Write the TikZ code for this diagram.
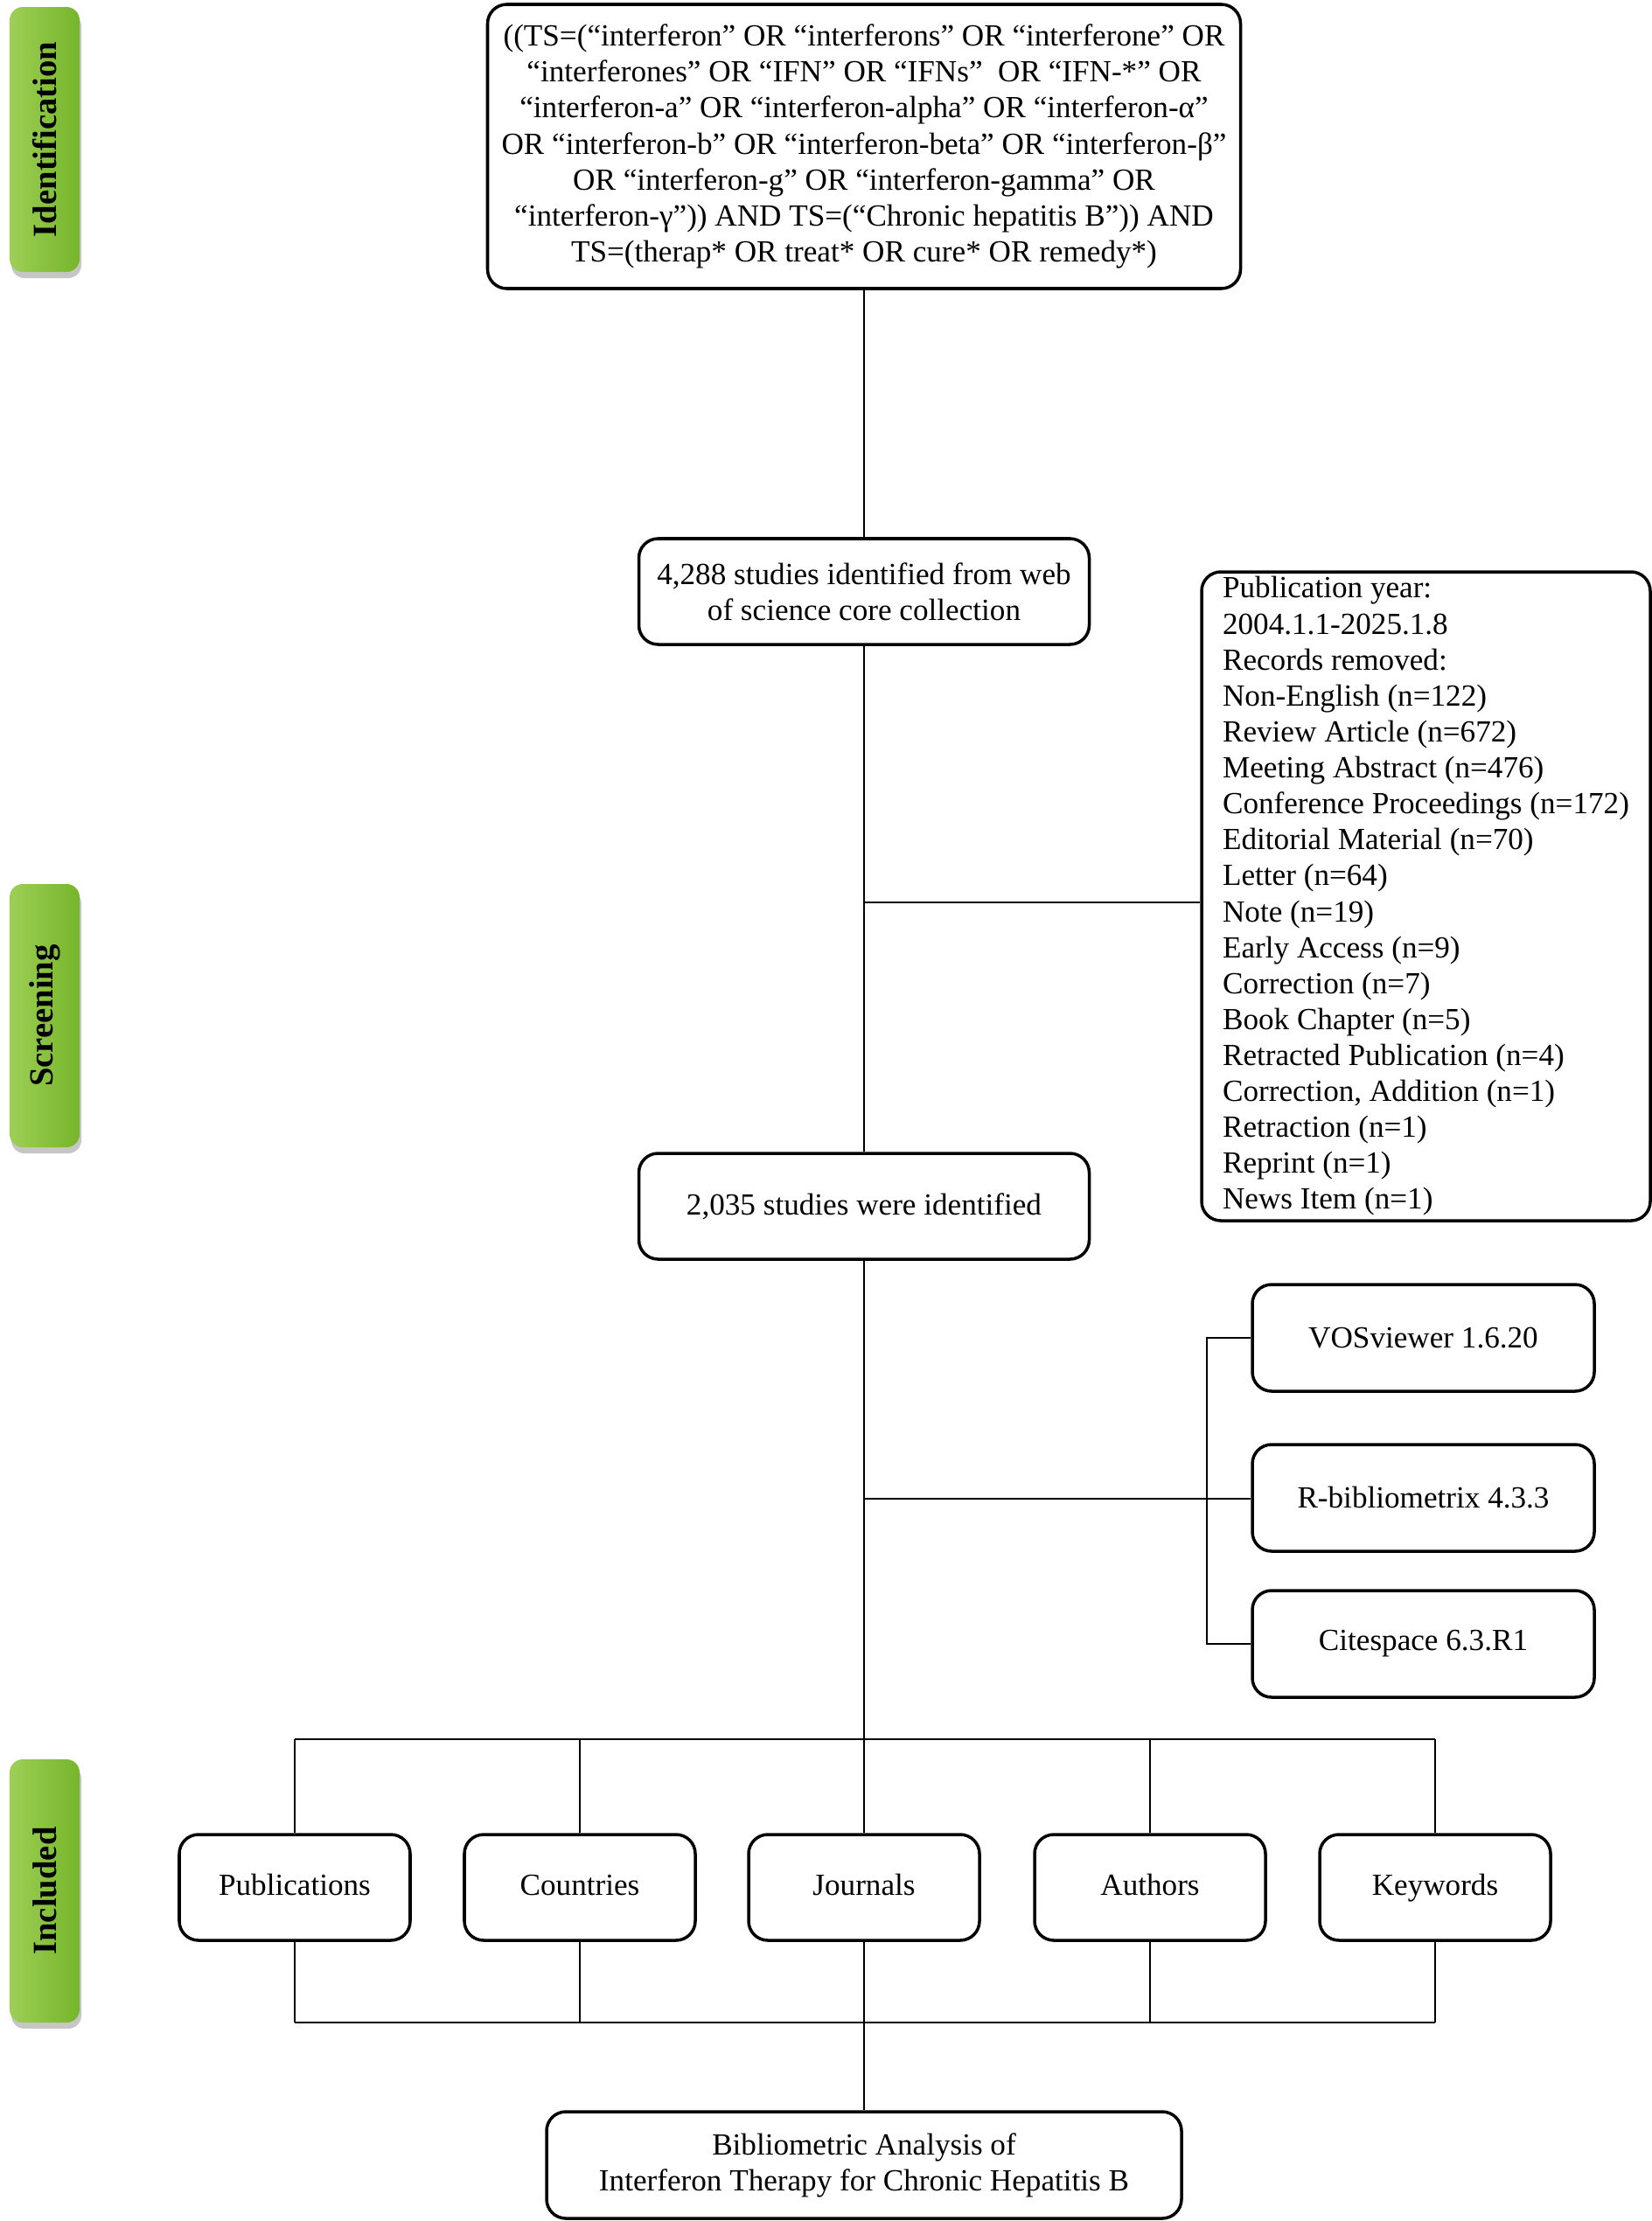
\documentclass[tikz,border=0pt]{standalone}
\usepackage{fontspec}
\setmainfont{Liberation Serif}
\usetikzlibrary{calc,shadows}
\definecolor{vertclair}{HTML}{9DCF55}
\definecolor{vertfonce}{HTML}{76B52A}

\begin{document}
\begin{tikzpicture}[
	boite/.style={draw,line width=1pt,rounded corners=0.22cm,align=center,inner sep=0pt,font=\fontsize{10}{11.7}\selectfont},
	categorie/.style={boite,minimum width=2.64cm,minimum height=1.21cm,text height=1.6ex,text depth=0.45ex},
	etape/.style={rounded corners=0.15cm,left color=vertclair,right color=vertfonce,minimum width=0.8cm,inner sep=0pt,
		drop shadow={shadow xshift=0.02cm,shadow yshift=-0.07cm,opacity=0.45},font=\fontsize{11}{13}\selectfont\bfseries},
	lien/.style={line width=0.8pt}]
		\useasboundingbox (0,0) rectangle (18.89,-25.40);
		% points de jonction sur l'axe principal
		\coordinate(J1)at(9.88,-10.32);
		\coordinate(J2)at(9.88,-17.14);
		\coordinate(K)at(13.80,-17.14);
		\coordinate(H1)at(9.88,-19.89);
		\coordinate(H2)at(9.88,-23.13);
		% bandeaux verts
		\node[etape,minimum height=3.03cm](ident)at(0.51,-1.595){\rotatebox{90}{Identification}};
		\node[etape,minimum height=3.01cm](tri)at(0.51,-11.615){\rotatebox{90}{Screening}};
		\node[etape,minimum height=3.01cm](inclus)at(0.51,-21.625){\rotatebox{90}{Included}};
		% boites principales
		\node[boite,minimum width=8.61cm,minimum height=3.25cm](requete)at(9.88,-1.675){((TS=(“interferon” OR “interferons” OR “interferone” OR\\
			“interferones” OR “IFN” OR “IFNs”\ \ OR “IFN-*” OR\\
			“interferon-a” OR “interferon-alpha” OR “interferon-α”\\
			OR “interferon-b” OR “interferon-beta” OR “interferon-β”\\
			OR “interferon-g” OR “interferon-gamma” OR\\
			“interferon-γ”)) AND TS=(“Chronic hepatitis B”)) AND\\
			TS=(therap* OR treat* OR cure* OR remedy*)};
		\node[boite,minimum width=5.15cm,minimum height=1.21cm](etudes)at(9.88,-6.765){4,288 studies identified from web\\of science core collection};
		\node[boite,align=left,minimum width=5.13cm,minimum height=7.42cm](exclus)at(16.305,-10.25){Publication year:\\
			2004.1.1-2025.1.8\\
			Records removed:\\
			Non-English (n=122)\\
			Review Article (n=672)\\
			Meeting Abstract (n=476)\\
			Conference Proceedings (n=172)\\
			Editorial Material (n=70)\\
			Letter (n=64)\\
			Note (n=19)\\
			Early Access (n=9)\\
			Correction (n=7)\\
			Book Chapter (n=5)\\
			Retracted Publication (n=4)\\
			Correction, Addition (n=1)\\
			Retraction (n=1)\\
			Reprint (n=1)\\
			News Item (n=1)};
		\node[boite,minimum width=5.15cm,minimum height=1.21cm](retenues)at(9.88,-13.795){2,035 studies were identified};
		% logiciels
		\node[boite,minimum width=3.91cm,minimum height=1.22cm](vos)at(16.275,-15.30){VOSviewer 1.6.20};
		\node[boite,minimum width=3.91cm,minimum height=1.22cm](rbib)at(16.275,-17.13){R-bibliometrix 4.3.3};
		\node[boite,minimum width=3.91cm,minimum height=1.22cm](cite)at(16.275,-18.80){Citespace 6.3.R1};
		% synthese finale
		\node[boite,minimum width=7.26cm,minimum height=1.22cm](synthese)at(9.88,-24.76){Bibliometric Analysis of\\Interferon Therapy for Chronic Hepatitis B};
		% liaisons
		\draw[lien] (requete.south) -- (etudes.north);
		\draw[lien] (etudes.south) -- (retenues.north);
		\draw[lien] (retenues.south) -- (H1);
		\draw[lien] (H2) -- (synthese.north);
		\draw[lien] (J1) -- (J1 -| exclus.west);
		\draw[lien] (J2) -- (J2 -| rbib.west);
		\draw[lien] (vos.west) -| (K) |- (cite.west);
		% cinq categories d'analyse
		\foreach \nom/\x/\texte in {pub/3.37/Publications,pays/6.63/Countries,revues/9.88/Journals,auteurs/13.15/Authors,mots/16.41/Keywords}{%
			\node[categorie](\nom)at(\x,-21.585){\texte};
			\draw[lien] (\nom.north) -- (\nom.north |- H1);
			\draw[lien] (\nom.south) -- (\nom.south |- H2);
			}
		\draw[lien] (pub.north |- H1) -- (mots.north |- H1);
		\draw[lien] (pub.south |- H2) -- (mots.south |- H2);
	\end{tikzpicture}
\end{document}
